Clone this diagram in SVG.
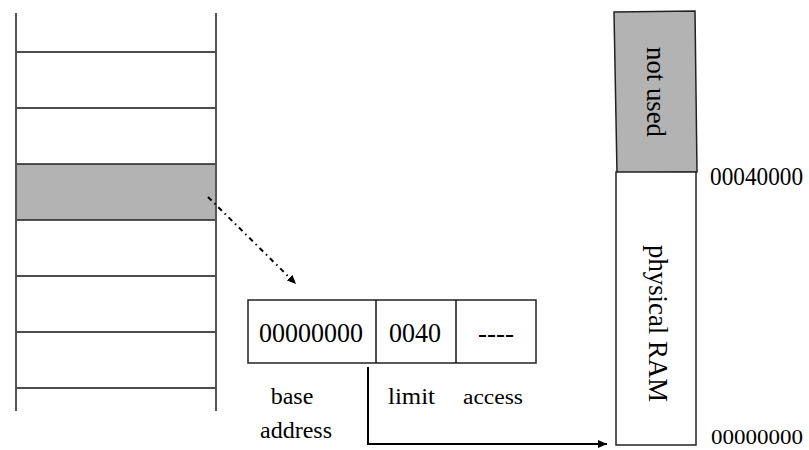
<svg xmlns="http://www.w3.org/2000/svg" width="809" height="450" viewBox="0 0 809 450">
<defs>
<style>
text{font-family:"Liberation Serif","DejaVu Serif",serif;fill:#000}
.ln{stroke:#111;stroke-width:1.5;fill:none}
.vl{stroke:#555;stroke-width:2;fill:none}
.box{stroke:#222;stroke-width:1.5;fill:#fff}
.gray{fill:#b3b3b3;stroke:#222;stroke-width:1.5}
.conn{stroke:#000;stroke-width:2;fill:none}
</style>
<marker id="ah" viewBox="0 0 10 10" refX="10" refY="5" markerWidth="9" markerHeight="8" markerUnits="userSpaceOnUse" orient="auto" preserveAspectRatio="none">
<path d="M0,0 L10,5 L0,10 z" fill="#000"/>
</marker>
</defs>
<rect width="809" height="450" fill="#fff"/>
<g id="descriptor-table">
<rect class="gray" x="16" y="164" width="200" height="56"/>
<line class="ln" x1="16" y1="52" x2="216" y2="52"/>
<line class="ln" x1="16" y1="108" x2="216" y2="108"/>
<line class="ln" x1="16" y1="276" x2="216" y2="276"/>
<line class="ln" x1="16" y1="332" x2="216" y2="332"/>
<line class="ln" x1="16" y1="388" x2="216" y2="388"/>
<line class="vl" x1="16" y1="13" x2="16" y2="411"/>
<line class="vl" x1="216" y1="13" x2="216" y2="411"/>
</g>
<g id="descriptor">
<rect class="box" x="248" y="300" width="288" height="63"/>
<line class="ln" x1="376" y1="300" x2="376" y2="363"/>
<line class="ln" x1="456" y1="300" x2="456" y2="363"/>
<text x="259" y="342" font-size="27" textLength="104" lengthAdjust="spacingAndGlyphs">00000000</text>
<text x="389" y="342" font-size="27" textLength="52" lengthAdjust="spacingAndGlyphs">0040</text>
<text x="496" y="342" font-size="27" text-anchor="middle">----</text>
<text x="292" y="404" font-size="24" text-anchor="middle">base</text>
<text x="296" y="438" font-size="24" text-anchor="middle">address</text>
<text x="388" y="404" font-size="24" textLength="47" lengthAdjust="spacingAndGlyphs">limit</text>
<text x="463" y="404" font-size="20" textLength="60" lengthAdjust="spacingAndGlyphs">access</text>
</g>
<g id="memory">
<polygon class="gray" points="614,12 695,11 697,172 617,173"/>
<rect class="box" x="616" y="172" width="80" height="273"/>
<text transform="translate(647,47) rotate(90)" font-size="27" textLength="90" lengthAdjust="spacingAndGlyphs">not used</text>
<text transform="translate(649,245) rotate(90)" font-size="28" textLength="157" lengthAdjust="spacingAndGlyphs">physical RAM</text>
<text x="710" y="185" font-size="25" textLength="93" lengthAdjust="spacingAndGlyphs">00040000</text>
<text x="711" y="444" font-size="22" textLength="92" lengthAdjust="spacingAndGlyphs">00000000</text>
</g>
<g id="connectors">
<line class="conn" x1="208" y1="197" x2="296" y2="284" stroke-width="1.5" stroke-dasharray="5,4,1.5,4" marker-end="url(#ah)"/>
<polyline class="conn" points="368,367 368,444 607,444" marker-end="url(#ah)"/>
</g>
</svg>
